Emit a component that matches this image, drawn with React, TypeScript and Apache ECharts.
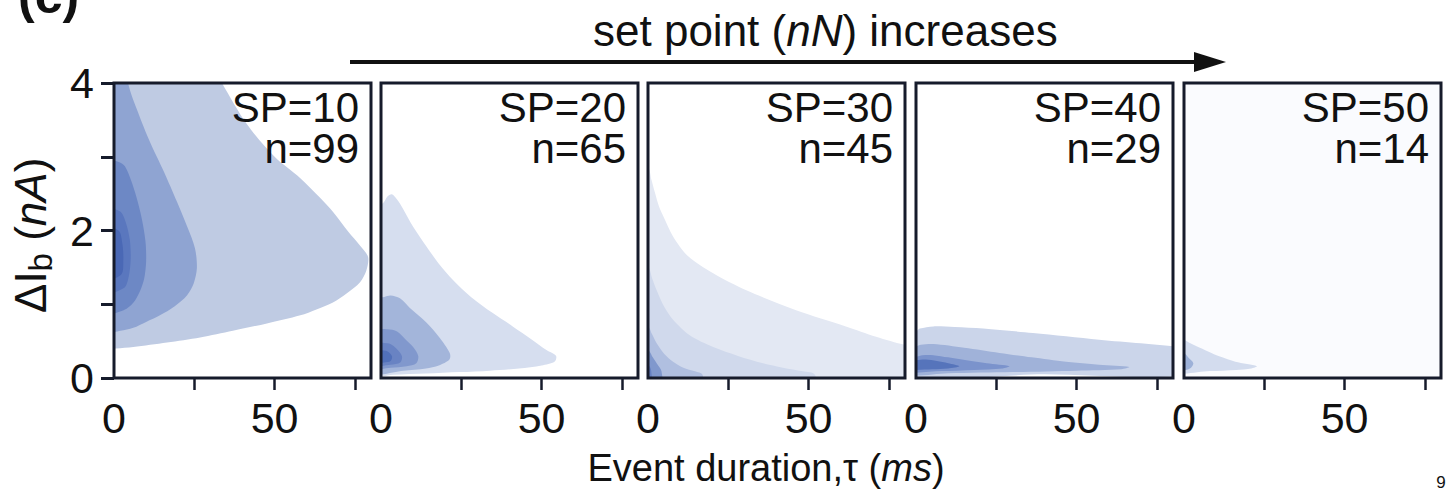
import React, { useEffect, useRef } from 'react';
import * as echarts from 'echarts';

// ---- data -------------------------------------------------------------
const SET_POINTS = [10, 20, 30, 40, 50];
const EVENT_COUNTS = [99, 65, 45, 29, 14];
const X_TICKS = [25, 50, 75];
const X_LABELS = [0, 50];
const Y_TICKS = [0, 1, 2, 3, 4];

// Density contour outlines per set point, [τ (ms), ΔIb (nA)], outermost level first.
const SP10_CONTOURS = [
  [[-4, 4.6], [26, 4.6], [33.6, 4.0], [41.4, 3.44], [50, 3.0], [58, 2.71], [64, 2.45], [68.2, 2.25], [73, 1.98], [76.5, 1.8], [79.1, 1.64], [78.5, 1.45], [76.6, 1.3], [72.5, 1.15], [68, 1.02], [63, 0.93], [58, 0.85], [47.6, 0.74], [37, 0.64], [26.8, 0.55], [16.5, 0.48], [6, 0.42], [0.6, 0.4], [-4, 0.4]],
  [[-4, 4.6], [3, 4.6], [4.4, 4.0], [7.5, 3.6], [11.2, 3.2], [15.5, 2.8], [19.6, 2.39], [22.8, 2.05], [25.2, 1.76], [25.8, 1.49], [24.8, 1.28], [22.7, 1.12], [18.8, 0.97], [14.3, 0.85], [10, 0.76], [6, 0.68], [2, 0.64], [-4, 0.62]],
  [[-4, 2.95], [1.5, 2.93], [3.4, 2.87], [5.3, 2.68], [7, 2.45], [8.7, 2.15], [9.8, 1.85], [10, 1.58], [9.4, 1.35], [8, 1.17], [6, 1.02], [3, 0.92], [-4, 0.88]],
  [[-4, 2.3], [1.8, 2.26], [3.6, 2.12], [4.9, 1.88], [5.2, 1.62], [4.6, 1.38], [3.1, 1.22], [-4, 1.15]],
  [[-4, 2.05], [1.4, 2.0], [2.6, 1.82], [2.9, 1.6], [2.2, 1.4], [-4, 1.33]],
];
const SP20_CONTOURS = [
  [[-4, 2.28], [0.6, 2.37], [2, 2.46], [3.4, 2.49], [5, 2.42], [6.8, 2.3], [10, 2.05], [14.2, 1.78], [18, 1.55], [22.4, 1.33], [28, 1.1], [34.8, 0.88], [41, 0.7], [47, 0.52], [51.5, 0.38], [54.5, 0.3], [54, 0.22], [50, 0.17], [43, 0.13], [34, 0.1], [24.5, 0.08], [14, 0.06], [3.7, 0.045], [-4, 0.04]],
  [[-4, 1.06], [1, 1.1], [3, 1.12], [5.9, 1.08], [9, 0.95], [14.2, 0.75], [18, 0.56], [21.4, 0.34], [21.3, 0.25], [18, 0.17], [14, 0.13], [7, 0.1], [-4, 0.08]],
  [[-4, 0.64], [2, 0.66], [5, 0.63], [7.5, 0.53], [10, 0.42], [11.6, 0.3], [11, 0.2], [8, 0.16], [3, 0.14], [-4, 0.13]],
  [[-4, 0.47], [2, 0.47], [4, 0.43], [6.5, 0.3], [6, 0.21], [3, 0.18], [-4, 0.17]],
  [[-4, 0.37], [1.5, 0.37], [3.4, 0.3], [3, 0.23], [1, 0.21], [-4, 0.2]],
];
const SP30_CONTOURS = [
  [[-4, 2.95], [0, 2.86], [1, 2.7], [2.2, 2.51], [3.4, 2.33], [4.8, 2.19], [7.8, 1.92], [12.5, 1.65], [20.3, 1.42], [30.6, 1.19], [46.1, 0.92], [61.6, 0.7], [71, 0.56], [80, 0.45], [86, 0.42], [86, -0.5], [-4, -0.5]],
  [[-4, 1.55], [0, 1.51], [1.3, 1.35], [2.7, 1.19], [5, 0.97], [7.8, 0.79], [13, 0.58], [20.3, 0.42], [28, 0.3], [35.8, 0.2], [42, 0.14], [48.2, 0.09], [52, 0.04], [54, -0.5], [-4, -0.5]],
  [[-4, 0.72], [0, 0.7], [1.2, 0.6], [2.7, 0.47], [5, 0.33], [7.8, 0.22], [11, 0.14], [14.6, 0.09], [17, 0.04], [18, -0.5], [-4, -0.5]],
  [[-4, 0.4], [0, 0.38], [1.5, 0.28], [2.7, 0.2], [4.2, 0.09], [5, -0.5], [-4, -0.5]],
  [[-4, 0.2], [0, 0.18], [1, 0.1], [1.5, -0.5], [-4, -0.5]],
];
const SP40_CONTOURS = [
  [[-4, 0.6], [0, 0.63], [1.2, 0.67], [5.4, 0.7], [12, 0.69], [20.9, 0.67], [36.4, 0.61], [57, 0.52], [70, 0.47], [80, 0.43], [86, 0.41], [86, 0.05], [40, 0.05], [-4, 0.05]],
  [[-4, 0.42], [0, 0.43], [1.5, 0.45], [5.4, 0.46], [15, 0.41], [26, 0.34], [36, 0.28], [46.7, 0.22], [57, 0.18], [66.4, 0.15], [64, 0.12], [50, 0.1], [30, 0.08], [10, 0.065], [-4, 0.06]],
  [[-4, 0.28], [0, 0.29], [2, 0.31], [5.4, 0.31], [10, 0.28], [15.7, 0.24], [22, 0.2], [29.1, 0.16], [27, 0.13], [18, 0.11], [8, 0.095], [-4, 0.09]],
  [[-4, 0.23], [0, 0.24], [3, 0.25], [6.5, 0.23], [10, 0.2], [13.5, 0.16], [10, 0.13], [5, 0.12], [-4, 0.12]],
];
const SP50_CONTOURS = [
  [[-4, 0.56], [0, 0.52], [2, 0.47], [3.9, 0.43], [7.5, 0.36], [11.2, 0.29], [16, 0.22], [22.7, 0.16], [21, 0.13], [16.3, 0.11], [8, 0.095], [-4, 0.09]],
  [[-4, 0.36], [0, 0.34], [1.5, 0.27], [2.9, 0.2], [2.2, 0.14], [0.5, 0.11], [-4, 0.1]],
];
const CONTOURS = [SP10_CONTOURS, SP20_CONTOURS, SP30_CONTOURS, SP40_CONTOURS, SP50_CONTOURS];

// ---- styling / layout -------------------------------------------------
const LEVEL_COLORS = [
  ['#bfcbe3', '#8fa4d2', '#6d88c5', '#5a77be', '#4a68b5'],
  ['#d6deef', '#a3b5da', '#8198cd', '#6983c3', '#5170b9'],
  ['#e3e8f3', '#d0d9ec', '#b0bfe0', '#8098cd', '#6681c3'],
  ['#cbd5ea', '#a0b2d9', '#7b93cc', '#5674bb'],
  ['#d3dcee', '#9db1d8'],
];
const PANEL_BG = ['#ffffff', '#ffffff', '#ffffff', '#ffffff', '#fafbfe'];
const GRID_LEFT = [114, 381, 648, 916, 1184];
const GRID_TOP = 83;
const GRID_W = 257;
const GRID_H = 295;
const INK = '#161b2b';
const FONT = '"Liberation Sans", Arial, Helvetica, sans-serif';

const measureCtx = typeof document !== 'undefined' ? document.createElement('canvas').getContext('2d') : null;
function textWidth(text: string, size: number, italic = false) {
  if (!measureCtx) return text.length * size * 0.55;
  measureCtx.font = `${italic ? 'italic ' : ''}${size}px ${FONT}`;
  return measureCtx.measureText(text).width;
}

function buildYTitle() {
  // ΔI_b (nA), read bottom-to-top
  const pieces = [
    { t: 'ΔI', size: 44, italic: false, dy: 0 },
    { t: 'b', size: 33, italic: false, dy: 10 },
    { t: ' (', size: 44, italic: false, dy: 0 },
    { t: 'nA', size: 44, italic: true, dy: 0 },
    { t: ')', size: 44, italic: false, dy: 0 },
  ];
  let cx = 0;
  const children: any[] = [];
  pieces.forEach((p) => {
    children.push({
      type: 'text',
      x: cx,
      y: p.dy,
      style: {
        text: p.t,
        fontSize: p.size,
        fontFamily: FONT,
        fontStyle: p.italic ? 'italic' : 'normal',
        fill: '#111',
        align: 'left',
        verticalAlign: 'middle',
        textAlign: 'left',
        textVerticalAlign: 'middle',
      },
    });
    cx += textWidth(p.t, p.size, p.italic);
  });
  return { type: 'group', x: 30, y: 313, rotation: Math.PI / 2, children };
}

function contourSeries(panel: number, level: number, pts: number[][]) {
  return {
    type: 'custom',
    coordinateSystem: 'cartesian2d',
    xAxisIndex: panel,
    yAxisIndex: panel,
    clip: true,
    silent: true,
    z: 1 + level * 0.01,
    data: pts,
    renderItem: (params: any, api: any) => {
      if (params.dataIndex !== 0) return null;
      const points = pts.map((p) => api.coord(p));
      return {
        type: 'polygon',
        shape: { points, smooth: 0.3 },
        style: { fill: LEVEL_COLORS[panel][level], stroke: null },
      };
    },
  };
}

export default function App() {
  const ref = useRef<HTMLDivElement>(null);

  useEffect(() => {
    if (!ref.current) return;
    const chart = echarts.init(ref.current, undefined, { renderer: 'svg' });

    const grid = GRID_LEFT.map((left, i) => ({
      left,
      top: GRID_TOP,
      width: GRID_W,
      height: GRID_H,
      show: true,
      backgroundColor: PANEL_BG[i],
      borderWidth: 0,
    }));

    const xAxis = GRID_LEFT.map((_, i) => ({
      type: 'value',
      gridIndex: i,
      min: 0,
      max: 80,
      interval: 25,
      z: 5,
      axisLine: { show: false },
      splitLine: { show: false },
      axisTick: {
        show: true,
        inside: false,
        length: 12,
        customValues: X_TICKS,
        lineStyle: { color: INK, width: 2.5 },
      },
      axisLabel: {
        show: true,
        customValues: X_LABELS,
        margin: 18,
        fontSize: 43,
        fontFamily: FONT,
        color: '#111',
      },
    }));

    const yAxis = GRID_LEFT.map((_, i) => ({
      type: 'value',
      gridIndex: i,
      min: 0,
      max: 4,
      interval: 1,
      z: 5,
      axisLine: { show: false },
      splitLine: { show: false },
      axisTick: {
        show: i === 0,
        inside: false,
        length: 13,
        customValues: Y_TICKS,
        lineStyle: { color: INK, width: 3 },
      },
      axisLabel: {
        show: i === 0,
        margin: 20,
        fontSize: 43,
        fontFamily: FONT,
        color: '#111',
        formatter: (v: number) => (v % 2 === 0 ? String(v) : ''),
      },
    }));

    const series: any[] = [];
    CONTOURS.forEach((levels, panel) => {
      levels.forEach((pts, level) => series.push(contourSeries(panel, level, pts)));
    });

    const graphic: any[] = [];
    // panel frames
    GRID_LEFT.forEach((left) => {
      graphic.push({
        type: 'rect',
        z: 100,
        silent: true,
        shape: { x: left, y: GRID_TOP, width: GRID_W, height: GRID_H },
        style: { fill: 'none', stroke: INK, lineWidth: 3 },
      });
    });
    // set point / count annotations, two right-aligned lines per panel
    GRID_LEFT.forEach((left, i) => {
      graphic.push({
        type: 'text',
        z: 101,
        silent: true,
        x: left + GRID_W - 12,
        y: 128,
        style: {
          text: `SP=${SET_POINTS[i]}\nn=${EVENT_COUNTS[i]}`,
          fontSize: 42,
          lineHeight: 41,
          fontFamily: FONT,
          fill: '#111',
          align: 'right',
          verticalAlign: 'middle',
          textAlign: 'right',
          textVerticalAlign: 'middle',
        },
      });
    });
    // arrow with caption
    graphic.push({
      type: 'line',
      z: 101,
      silent: true,
      shape: { x1: 350, y1: 62, x2: 1200, y2: 62 },
      style: { stroke: '#111', lineWidth: 4 },
    });
    graphic.push({
      type: 'polygon',
      z: 101,
      silent: true,
      shape: { points: [[1194, 52], [1226, 62], [1194, 72]] },
      style: { fill: '#111' },
    });
    graphic.push({
      type: 'text',
      z: 101,
      silent: true,
      x: 593,
      y: 30,
      style: {
        text: '{a|set point (}{i|nN}{a|) increases}',
        rich: {
          a: { fontSize: 44, fontFamily: FONT, fill: '#111' },
          i: { fontSize: 44, fontFamily: FONT, fontStyle: 'italic', fill: '#111' },
        },
        align: 'left',
        verticalAlign: 'middle',
        textAlign: 'left',
        textVerticalAlign: 'middle',
      },
    });
    // x-axis title
    graphic.push({
      type: 'text',
      z: 101,
      silent: true,
      x: 766,
      y: 468,
      style: {
        text: '{a|Event duration,τ (}{i|ms}{a|)}',
        rich: {
          a: { fontSize: 38, fontFamily: FONT, fill: '#111' },
          i: { fontSize: 38, fontFamily: FONT, fontStyle: 'italic', fill: '#111' },
        },
        align: 'center',
        verticalAlign: 'middle',
        textAlign: 'center',
        textVerticalAlign: 'middle',
      },
    });
    // y-axis title
    graphic.push(buildYTitle());
    // panel tag and page number
    graphic.push({
      type: 'text',
      z: 101,
      silent: true,
      x: 18,
      y: -4,
      style: {
        text: '(c)',
        fontSize: 50,
        fontWeight: 'bold',
        fontFamily: FONT,
        fill: '#111',
        align: 'left',
        verticalAlign: 'middle',
        textAlign: 'left',
        textVerticalAlign: 'middle',
      },
    });
    graphic.push({
      type: 'text',
      z: 101,
      silent: true,
      x: 1441,
      y: 482,
      style: {
        text: '9',
        fontSize: 17,
        fontFamily: FONT,
        fill: '#111',
        align: 'center',
        verticalAlign: 'middle',
        textAlign: 'center',
        textVerticalAlign: 'middle',
      },
    });

    chart.setOption({
      animation: false,
      backgroundColor: '#ffffff',
      grid,
      xAxis,
      yAxis,
      series,
      graphic,
    });

    return () => chart.dispose();
  }, []);

  return (
    <div
      ref={ref}
      style={{ position: 'fixed', left: 0, top: 0, width: 1453, height: 495, background: '#fff' }}
    />
  );
}
